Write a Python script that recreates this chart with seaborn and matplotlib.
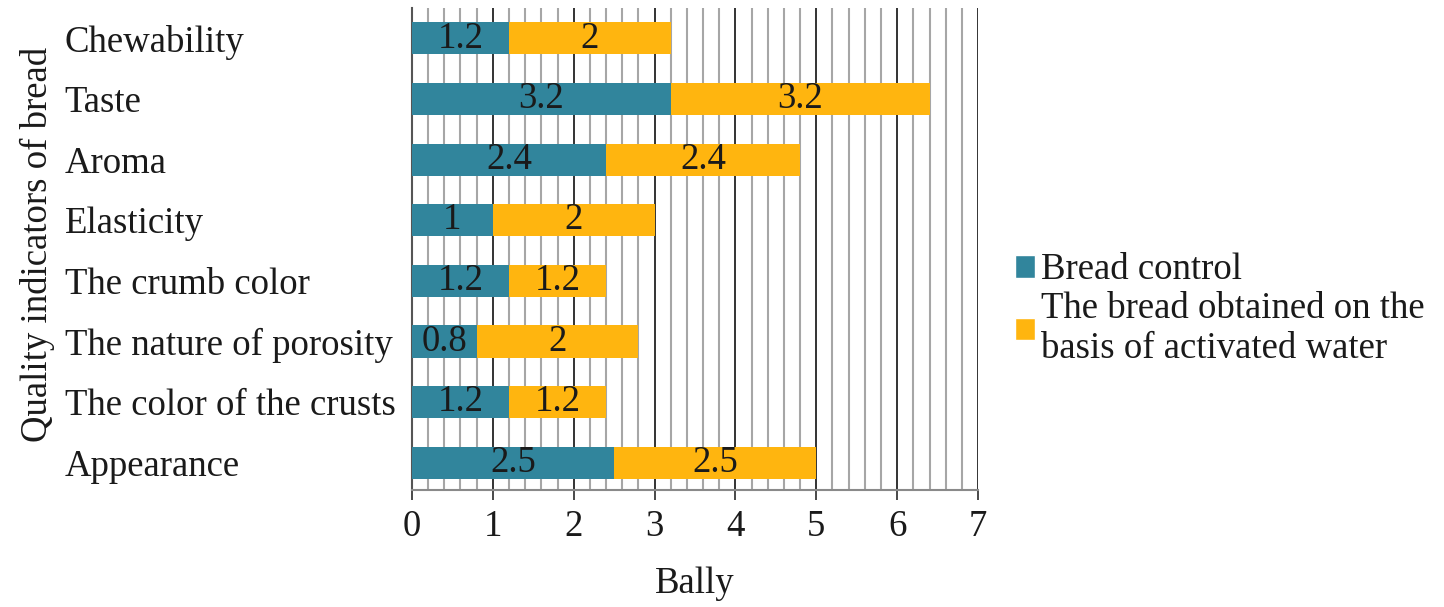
import numpy as np
import pandas as pd
import seaborn as sns
import matplotlib.pyplot as plt
from matplotlib.ticker import MultipleLocator
from matplotlib.patches import Patch

categories = ['Chewability', 'Taste', 'Aroma', 'Elasticity', 'The crumb color',
              'The nature of porosity', 'The color of the crusts', 'Appearance']
control = [1.2, 3.2, 2.4, 1.0, 1.2, 0.8, 1.2, 2.5]
activated = [2.0, 3.2, 2.4, 2.0, 1.2, 2.0, 1.2, 2.5]
series_names = ['Bread control', 'The bread obtained on the\nbasis of activated water']

teal = '#31859C'
orange = '#FFB50F'

sns.set_style('white')
plt.rcParams['font.family'] = ['Liberation Serif', 'DejaVu Serif']
plt.rcParams['text.color'] = '#1a1a1a'
plt.rcParams['axes.labelcolor'] = '#1a1a1a'
plt.rcParams['xtick.color'] = '#1a1a1a'
plt.rcParams['ytick.color'] = '#1a1a1a'
fs = 26.5

df = pd.DataFrame({'cat': categories, 'control': control, 'activated': activated})
df['total'] = df['control'] + df['activated']

fig = plt.figure(figsize=(14.44, 6.07), dpi=100)
ax = fig.add_axes([0.2853, 0.1928, 0.3920, 0.794])

# stacked: total underneath, control on top
sns.barplot(data=df, x='total', y='cat', color=orange, width=0.53, orient='h',
            saturation=1, linewidth=0, ax=ax, zorder=3)
sns.barplot(data=df, x='control', y='cat', color=teal, width=0.53, orient='h',
            saturation=1, linewidth=0, ax=ax, zorder=3)

for i, (c, a) in enumerate(zip(control, activated)):
    ax.text(c / 2, i, f'{c:g}', ha='center', va='center', fontsize=fs,
            color='#1a1a1a', zorder=4)
    ax.text(c + a / 2, i, f'{a:g}', ha='center', va='center', fontsize=fs,
            color='#1a1a1a', zorder=4)

ax.set_xlim(0, 7)
ax.set_ylim(7.45, -0.5)
ax.xaxis.set_major_locator(MultipleLocator(1))
ax.xaxis.set_minor_locator(MultipleLocator(0.2))
ax.grid(which='minor', axis='x', color='#a6a6a6', lw=1.5, zorder=0)
ax.grid(which='major', axis='x', color='#333333', lw=1.4, zorder=1)
ax.grid(False, axis='y')
ax.set_axisbelow(True)

for s in ['top', 'right']:
    ax.spines[s].set_visible(False)
ax.spines['left'].set_color('#555555')
ax.spines['left'].set_linewidth(1.5)
ax.spines['bottom'].set_color('#8a8a8a')
ax.spines['bottom'].set_linewidth(1.5)

ax.tick_params(axis='x', which='major', direction='out', length=7, width=1.3,
               color='#3a3a3a', labelsize=fs, pad=7, bottom=True)
ax.tick_params(axis='x', which='minor', length=0)
ax.tick_params(axis='y', length=0, labelsize=fs, pad=250)
for lab in ax.get_yticklabels():
    lab.set_ha('left')

ax.set_xlabel('Bally', fontsize=fs, labelpad=16)
ax.set_ylabel('Quality indicators of bread', fontsize=fs)
ax.yaxis.set_label_coords(-0.63, 0.51)

handles = [Patch(facecolor=teal, label=series_names[0]),
           Patch(facecolor=orange, label=series_names[1])]
fig.legend(handles=handles, loc='center left', bbox_to_anchor=(0.68, 0.49),
           frameon=False, fontsize=fs, handlelength=0.55, handleheight=0.55,
           handletextpad=0.15, labelspacing=0.12)

fig.savefig('out.png', dpi=100)
